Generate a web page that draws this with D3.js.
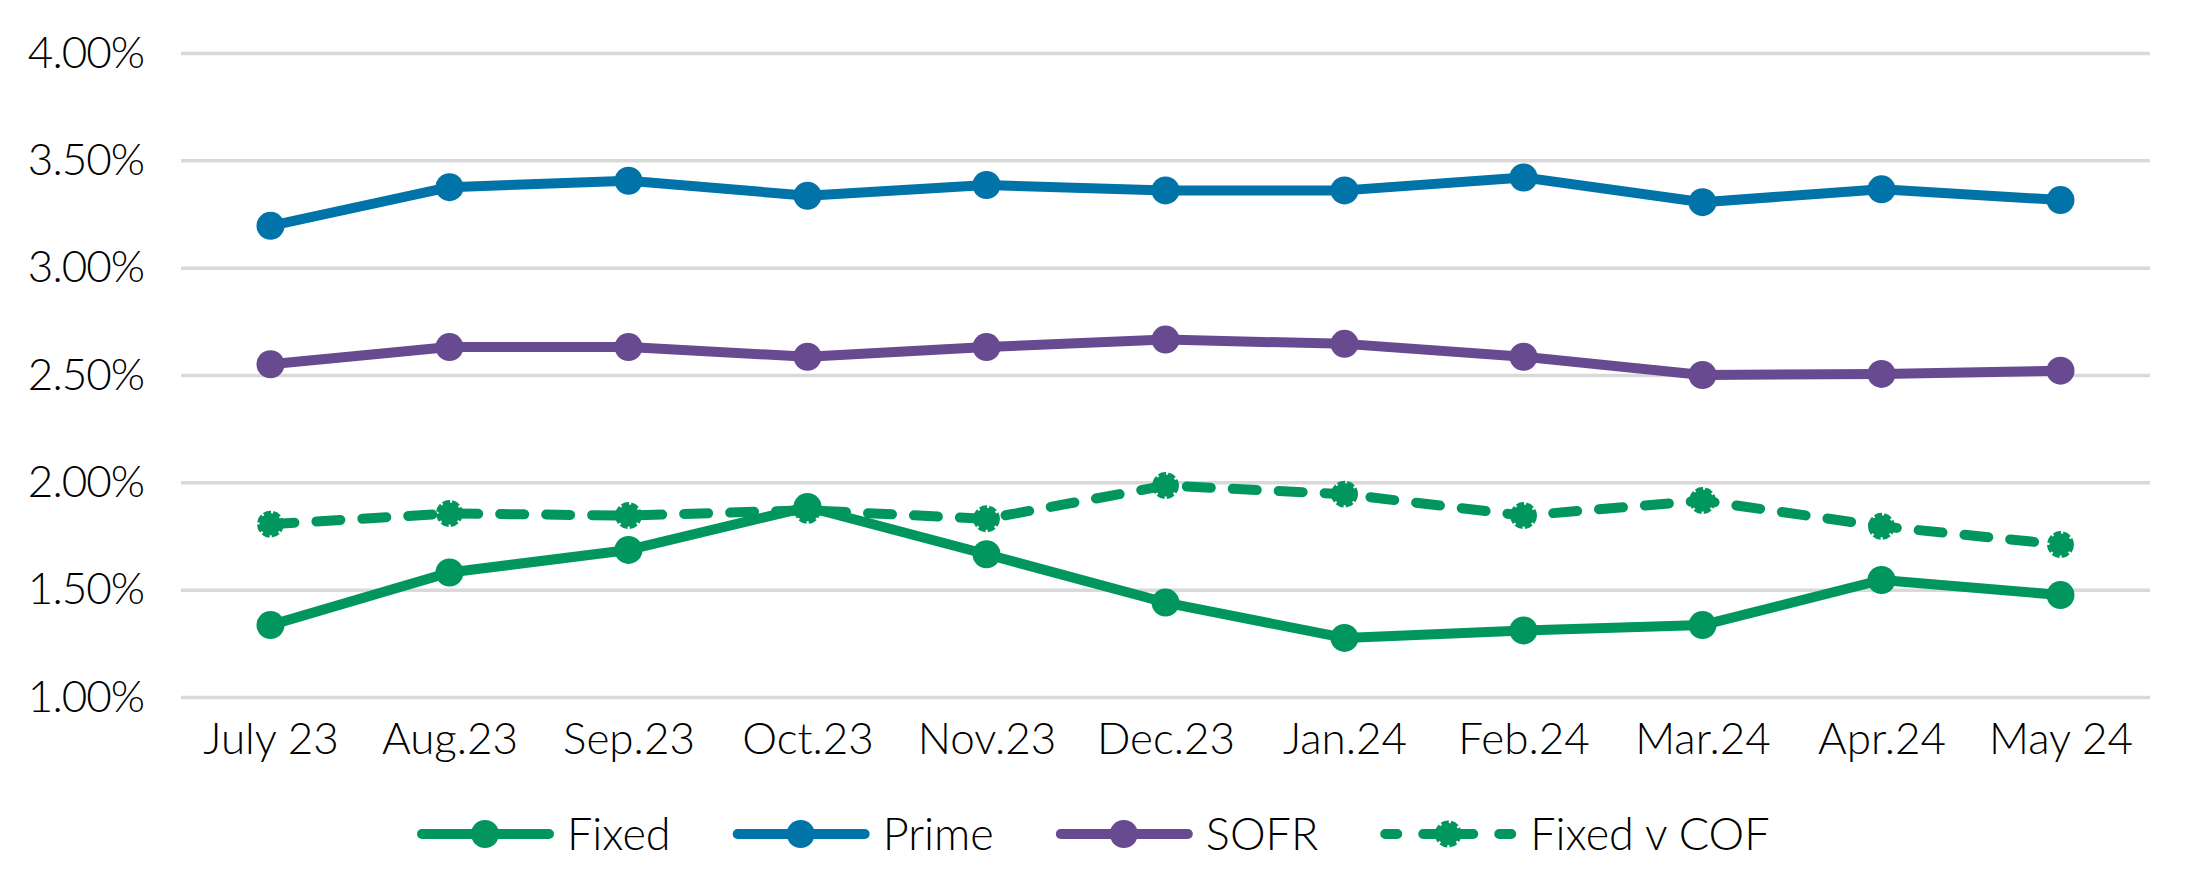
<!DOCTYPE html>
<html><head><meta charset="utf-8">
<script src="https://cdn.jsdelivr.net/npm/d3@7"></script>
<style>
body{margin:0;background:#fff}
svg{display:block}
text{font-family:Lato,"Liberation Sans",sans-serif;font-weight:300;fill:#000}
</style>
</head><body>
<svg id="c" width="2188" height="882"></svg>
<script>
const months = ["July 23","Aug.23","Sep.23","Oct.23","Nov.23","Dec.23","Jan.24","Feb.24","Mar.24","Apr.24","May 24"];
const fixed    = [1.335, 1.58, 1.685, 1.885, 1.665, 1.44, 1.275, 1.31, 1.335, 1.545, 1.475];
const prime    = [3.195, 3.375, 3.405, 3.335, 3.385, 3.36, 3.36, 3.42, 3.305, 3.365, 3.315];
const sofr     = [2.55, 2.63, 2.63, 2.585, 2.63, 2.665, 2.645, 2.585, 2.50, 2.505, 2.52];
const fixedCOF = [1.805, 1.855, 1.845, 1.87, 1.83, 1.985, 1.945, 1.845, 1.915, 1.795, 1.71];
const yTicks   = [1.0, 1.5, 2.0, 2.5, 3.0, 3.5, 4.0];
const seriesNames = ["Fixed","Prime","SOFR","Fixed v COF"];

const colors = {"Fixed":"#00965E","Prime":"#0073A8","SOFR":"#674A8F","Fixed v COF":"#00965E"};
const series = [
  {name:"Fixed", values:fixed, dashed:false},
  {name:"Prime", values:prime, dashed:false},
  {name:"SOFR", values:sofr, dashed:false},
  {name:"Fixed v COF", values:fixedCOF, dashed:true}
];

const svg = d3.select("#c");
const pLeft = 181, pRight = 2150, pTop = 53, pBottom = 697;
const x = d3.scalePoint().domain(months).range([pLeft, pRight]).padding(0.5);
const y = d3.scaleLinear().domain([1, 4]).range([pBottom, pTop]);

// gridlines + y labels
const ya = svg.append("g").attr("transform", `translate(${pLeft},0)`)
  .call(d3.axisLeft(y).tickValues(yTicks).tickSize(-(pRight-pLeft)).tickPadding(37)
        .tickFormat(d => d.toFixed(2) + "%"));
ya.select(".domain").remove();
ya.selectAll("line").attr("stroke", "#d9d9d9").attr("stroke-width", 3.5);
ya.selectAll("text").style("font-size", "44px").style("letter-spacing", "-1px").attr("fill", "#000");

// x labels
const xa = svg.append("g").attr("transform", `translate(0,${pBottom})`)
  .call(d3.axisBottom(x).tickSize(0).tickPadding(26));
xa.select(".domain").remove();
xa.selectAll("text").style("font-size", "44px").attr("fill", "#000");

const line = d3.line().x((d,i) => x(months[i])).y(d => y(d));

series.forEach(s => {
  const g = svg.append("g");
  g.append("path").datum(s.values)
    .attr("d", line).attr("fill", "none")
    .attr("stroke", colors[s.name]).attr("stroke-width", 10)
    .attr("stroke-linejoin", "round")
    .attr("stroke-linecap", "round")
    .attr("stroke-dasharray", s.dashed ? "24,22" : null);
  const c = g.selectAll("circle").data(s.values).join("circle")
    .attr("cx", (d,i) => x(months[i])).attr("cy", d => y(d))
    .attr("r", s.dashed ? 11 : 14)
    .attr("fill", colors[s.name]);
  if (s.dashed) c.attr("stroke", colors[s.name]).attr("stroke-width", 5).attr("stroke-dasharray", "7,2");
});

// legend
const legY = 834;
let lx = 417;
seriesNames.forEach(name => {
  const s = series.find(d => d.name === name);
  const g = svg.append("g");
  g.append("line").attr("x1", lx + 5).attr("x2", lx + 132).attr("y1", legY).attr("y2", legY)
    .attr("stroke", colors[name]).attr("stroke-width", 10).attr("stroke-linecap", "round")
    .attr("stroke-dasharray", s.dashed ? "12,26" : null);
  const mk = g.append("circle").attr("cx", lx + 68).attr("cy", legY).attr("r", s.dashed ? 11 : 14)
    .attr("fill", colors[name]);
  if (s.dashed) mk.attr("stroke", colors[name]).attr("stroke-width", 5).attr("stroke-dasharray", "7,2");
  const t = g.append("text").attr("x", lx + 150).attr("y", legY + 16)
    .style("font-size", "45px").text(name);
  const w = t.node().getComputedTextLength();
  lx = lx + 150 + w + 62;
});
</script>
</body></html>
